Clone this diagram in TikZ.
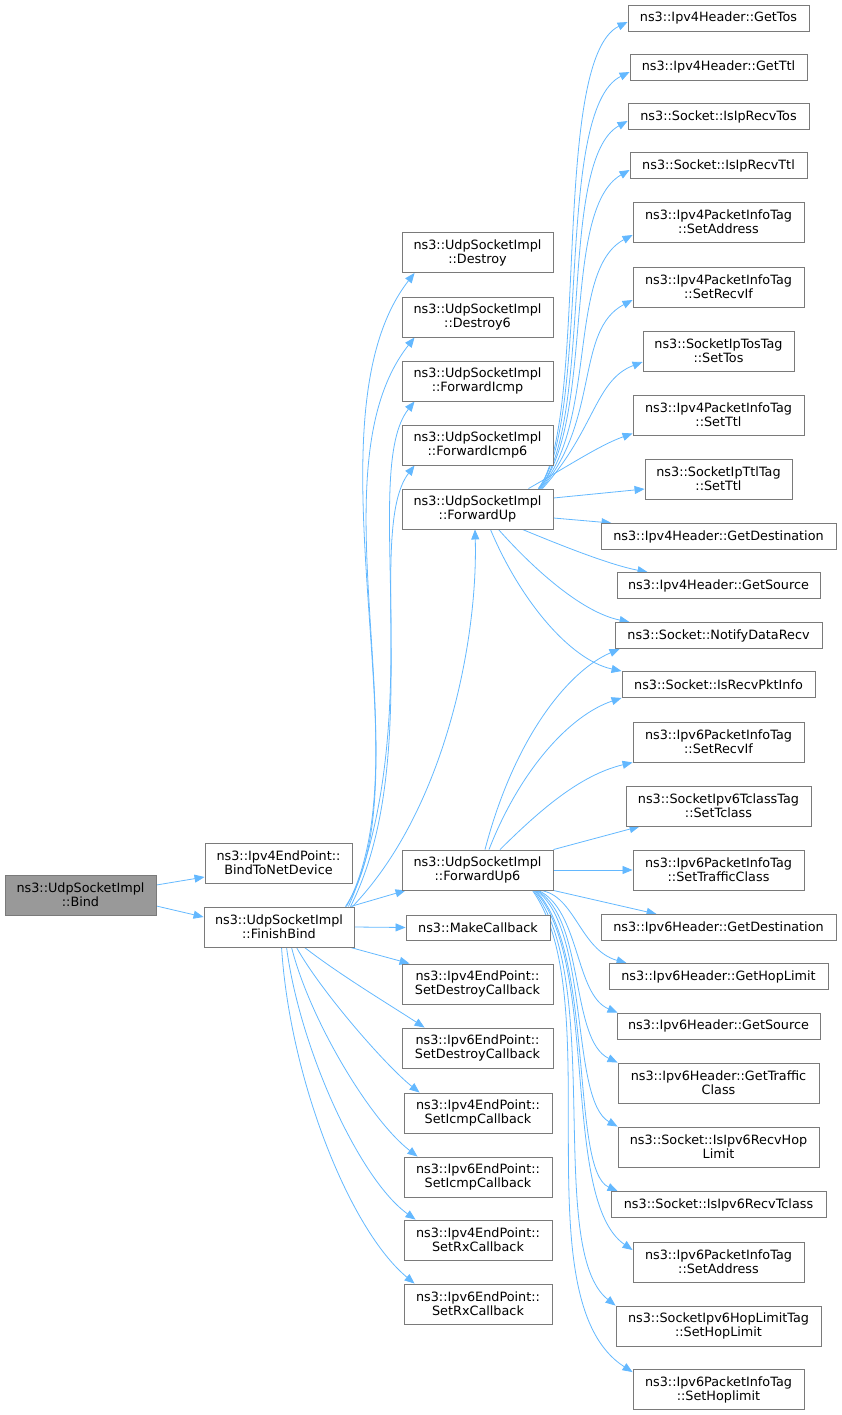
\documentclass[tikz,border=0pt]{standalone}
\usepackage{fontspec}
\setmainfont{DejaVu Sans}
\usetikzlibrary{arrows.meta}
\pgfdeclarelayer{background}
\pgfsetlayers{background,main}
\definecolor{edgeblue}{HTML}{63B8FF}
\definecolor{boxline}{HTML}{7A7A7A}
\definecolor{rootfill}{HTML}{999999}
\tikzset{
  box/.style={draw=boxline, fill=white, line width=0.9pt, inner sep=0pt, align=center,
    font=\fontsize{12.8}{14}\selectfont},
  one/.style={box, minimum height=26pt},
  two/.style={box, minimum height=40pt},
  root/.style={two, fill=rootfill},
  edge/.style={draw=edgeblue, line width=0.8pt, -{Triangle[length=10pt,width=8pt]}}
}
\begin{document}
\begin{tikzpicture}[x=1pt,y=-1pt]
\useasboundingbox (0,0) rectangle (841,1415);
% left
\node[root, minimum width=151pt] (Bind) at (80.5,895) {ns3::UdpSocketImpl\\::Bind};
\node[two, minimum width=147pt] (B2N) at (278.5,863) {ns3::Ipv4EndPoint::\\BindToNetDevice};
\node[two, minimum width=150pt] (FB) at (279,927) {ns3::UdpSocketImpl\\::FinishBind};
% middle column
\node[two, minimum width=151pt] (D) at (477.5,252.5) {ns3::UdpSocketImpl\\::Destroy};
\node[two, minimum width=151pt] (D6) at (477.5,317) {ns3::UdpSocketImpl\\::Destroy6};
\node[two, minimum width=151pt] (FI) at (477.5,381) {ns3::UdpSocketImpl\\::ForwardIcmp};
\node[two, minimum width=151pt] (FI6) at (477.5,445) {ns3::UdpSocketImpl\\::ForwardIcmp6};
\node[two, minimum width=151pt] (FU) at (477.5,509) {ns3::UdpSocketImpl\\::ForwardUp};
\node[two, minimum width=151pt] (FU6) at (477.5,870) {ns3::UdpSocketImpl\\::ForwardUp6};
\node[one, minimum width=144pt, minimum height=25pt] (MC) at (478,927.5) {ns3::MakeCallback};
\node[two, minimum width=151pt] (SDC4) at (477.5,984) {ns3::Ipv4EndPoint::\\SetDestroyCallback};
\node[two, minimum width=151pt] (SDC6) at (477.5,1048) {ns3::Ipv6EndPoint::\\SetDestroyCallback};
\node[two, minimum width=148pt] (SIC4) at (478,1113) {ns3::Ipv4EndPoint::\\SetIcmpCallback};
\node[two, minimum width=148pt] (SIC6) at (478,1177) {ns3::Ipv6EndPoint::\\SetIcmpCallback};
\node[two, minimum width=148pt] (SRX4) at (478,1240) {ns3::Ipv4EndPoint::\\SetRxCallback};
\node[two, minimum width=148pt] (SRX6) at (478,1304) {ns3::Ipv6EndPoint::\\SetRxCallback};
% right column
\node[one, minimum width=181pt] (GetTos) at (718.5,18) {ns3::Ipv4Header::GetTos};
\node[one, minimum width=177pt] (GetTtl) at (718.5,67) {ns3::Ipv4Header::GetTtl};
\node[one, minimum width=181pt] (IsTos) at (718.5,116.5) {ns3::Socket::IsIpRecvTos};
\node[one, minimum width=177pt] (IsTtl) at (718.5,165.5) {ns3::Socket::IsIpRecvTtl};
\node[two, minimum width=171pt] (SA4) at (718.5,222) {ns3::Ipv4PacketInfoTag\\::SetAddress};
\node[two, minimum width=171pt] (SRI4) at (718.5,287) {ns3::Ipv4PacketInfoTag\\::SetRecvIf};
\node[two, minimum width=151pt] (STos) at (718.5,351) {ns3::SocketIpTosTag\\::SetTos};
\node[two, minimum width=171pt] (STtl4) at (718.5,415) {ns3::Ipv4PacketInfoTag\\::SetTtl};
\node[two, minimum width=147pt] (STtlT) at (718.5,479) {ns3::SocketIpTtlTag\\::SetTtl};
\node[one, minimum width=235pt] (GD4) at (718.5,536.5) {ns3::Ipv4Header::GetDestination};
\node[one, minimum width=203pt] (GS4) at (718.5,585.5) {ns3::Ipv4Header::GetSource};
\node[one, minimum width=207pt] (ND) at (718.5,635.5) {ns3::Socket::NotifyDataRecv};
\node[one, minimum width=193pt] (IRP) at (718.5,684.5) {ns3::Socket::IsRecvPktInfo};
\node[two, minimum width=171pt] (SRI6) at (718.5,742) {ns3::Ipv6PacketInfoTag\\::SetRecvIf};
\node[two, minimum width=185pt] (STc) at (718.5,806) {ns3::SocketIpv6TclassTag\\::SetTclass};
\node[two, minimum width=171pt] (STC6) at (718.5,870) {ns3::Ipv6PacketInfoTag\\::SetTrafficClass};
\node[one, minimum width=235pt] (GD6) at (718.5,927.5) {ns3::Ipv6Header::GetDestination};
\node[one, minimum width=219pt] (GH) at (718.5,976.5) {ns3::Ipv6Header::GetHopLimit};
\node[one, minimum width=203pt] (GS6) at (718.5,1026) {ns3::Ipv6Header::GetSource};
\node[two, minimum width=201pt] (GTC) at (718.5,1083) {ns3::Ipv6Header::GetTraffic\\Class};
\node[two, minimum width=201pt] (IHL) at (718.5,1147) {ns3::Socket::IsIpv6RecvHop\\Limit};
\node[one, minimum width=215pt] (ITc) at (718.5,1204.5) {ns3::Socket::IsIpv6RecvTclass};
\node[two, minimum width=171pt] (SA6) at (718.5,1262) {ns3::Ipv6PacketInfoTag\\::SetAddress};
\node[two, minimum width=205pt] (SHL) at (718.5,1326) {ns3::SocketIpv6HopLimitTag\\::SetHopLimit};
\node[two, minimum width=171pt] (SHl6) at (718.5,1389.5) {ns3::Ipv6PacketInfoTag\\::SetHoplimit};

\begin{pgfonlayer}{background}
% Bind
\draw[edge] ([yshift=10pt]Bind.east) -- ([yshift=-14pt]B2N.west);
\draw[edge] ([yshift=-11pt]Bind.east) -- ([yshift=10pt]FB.west);
% FinishBind
\draw[edge] ([xshift=-4pt]FB.north east) -- ([xshift=4pt]FU6.south west);
\draw[edge] (FB.east) -- (MC.west);
\draw[edge] ([xshift=-4pt]FB.south east) -- ([xshift=8pt]SDC4.north west);
\draw[edge] ([xshift=101pt]FB.south west) .. controls (340,975) and (390,1005) .. ([xshift=23pt]SDC6.north west);
\draw[edge] ([xshift=93pt]FB.south west) .. controls (320,990) and (385,1065) .. ([xshift=16pt]SIC4.north west);
\draw[edge] ([xshift=88pt]FB.south west) .. controls (310,1020) and (370,1120) .. ([xshift=14pt]SIC6.north west);
\draw[edge] ([xshift=83pt]FB.south west) .. controls (300,1050) and (360,1180) .. ([xshift=12pt]SRX4.north west);
\draw[edge] ([xshift=78pt]FB.south west) .. controls (290,1080) and (350,1230) .. ([xshift=11pt]SRX6.north west);
\draw[edge] ([xshift=-9pt]FB.north east) .. controls (430,780) and (300,420) .. ([xshift=13pt]D.south west);
\draw[edge] ([xshift=-8pt]FB.north east) .. controls (425,760) and (310,470) .. ([xshift=13pt]D6.south west);
\draw[edge] ([xshift=-6pt]FB.north east) .. controls (430,720) and (360,470) .. ([xshift=13pt]FI.south west);
\draw[edge] ([xshift=-4pt]FB.north east) .. controls (425,760) and (365,530) .. ([xshift=13pt]FI6.south west);
\draw[edge] ([xshift=-2pt]FB.north east) .. controls (445,810) and (478,640) .. ([xshift=-2.5pt]FU.south);
% ForwardUp
\draw[edge] ([xshift=-15pt]FU.north east) .. controls (590,420) and (550,60) .. ([yshift=-4pt]GetTos.west);
\draw[edge] ([xshift=-15pt]FU.north east) .. controls (592,420) and (553,110) .. ([yshift=-5pt]GetTtl.west);
\draw[edge] ([xshift=-14pt]FU.north east) .. controls (594,420) and (557,160) .. ([yshift=-4.5pt]IsTos.west);
\draw[edge] ([xshift=-14pt]FU.north east) .. controls (596,420) and (560,210) .. ([yshift=-4.5pt]IsTtl.west);
\draw[edge] ([xshift=-13pt]FU.north east) .. controls (598,420) and (567,270) .. ([yshift=-13pt]SA4.west);
\draw[edge] ([xshift=-12pt]FU.north east) .. controls (600,420) and (575,330) .. ([yshift=-13pt]SRI4.west);
\draw[edge] ([xshift=-11pt]FU.north east) .. controls (595,430) and (595,380) .. ([yshift=-11pt]STos.west);
\draw[edge] ([xshift=-25pt]FU.north east) .. controls (570,465) and (600,445) .. ([yshift=2pt]STtl4.south west);
\draw[edge] ([yshift=11pt]FU.east) -- ([yshift=-10pt]STtlT.west);
\draw[edge] ([yshift=-9pt]FU.east) -- ([xshift=11pt]GD4.north west);
\draw[edge] ([xshift=-31pt]FU.south east) .. controls (560,545) and (610,565) .. ([xshift=31pt]GS4.north west);
\draw[edge] ([xshift=-55pt]FU.south east) .. controls (530,565) and (580,612) .. ([xshift=15pt]ND.north west);
\draw[edge] ([xshift=-63pt]FU.south east) .. controls (520,600) and (570,660) .. (IRP.north west);
% ForwardUp6
\draw[edge] ([xshift=7.5pt]FU6.north) .. controls (515,735) and (570,670) .. ([xshift=5pt]ND.south west);
\draw[edge] ([xshift=11.5pt]FU6.north) .. controls (520,770) and (570,715) .. (IRP.south west);
\draw[edge] ([xshift=22.5pt]FU6.north) .. controls (540,810) and (580,775) .. (SRI6.south west);
\draw[edge] (FU6.north east) -- ([xshift=14pt]STc.south west);
\draw[edge] (FU6.east) -- (STC6.west);
\draw[edge] (FU6.south east) -- ([xshift=56pt]GD6.north west);
\draw[edge] ([xshift=-13pt]FU6.south east) .. controls (575,895) and (580,950) .. ([xshift=18pt]GH.north west);
\draw[edge] ([xshift=-15pt]FU6.south east) .. controls (580,910) and (575,995) .. ([xshift=1pt]GS6.north west);
\draw[edge] ([xshift=-16pt]FU6.south east) .. controls (585,920) and (570,1040) .. (GTC.north west);
\draw[edge] ([xshift=-17pt]FU6.south east) .. controls (590,930) and (570,1100) .. (IHL.north west);
\draw[edge] ([xshift=-18pt]FU6.south east) .. controls (595,950) and (570,1170) .. ([xshift=7pt]ITc.north west);
\draw[edge] ([xshift=-19pt]FU6.south east) .. controls (600,960) and (560,1200) .. ([yshift=12pt]SA6.west);
\draw[edge] ([xshift=-20pt]FU6.south east) .. controls (605,980) and (545,1250) .. (SHL.north west);
\draw[edge] ([xshift=-21pt]FU6.south east) .. controls (610,1000) and (520,1300) .. ([yshift=-3pt]SHl6.north west);
\end{pgfonlayer}
\end{tikzpicture}
\end{document}
